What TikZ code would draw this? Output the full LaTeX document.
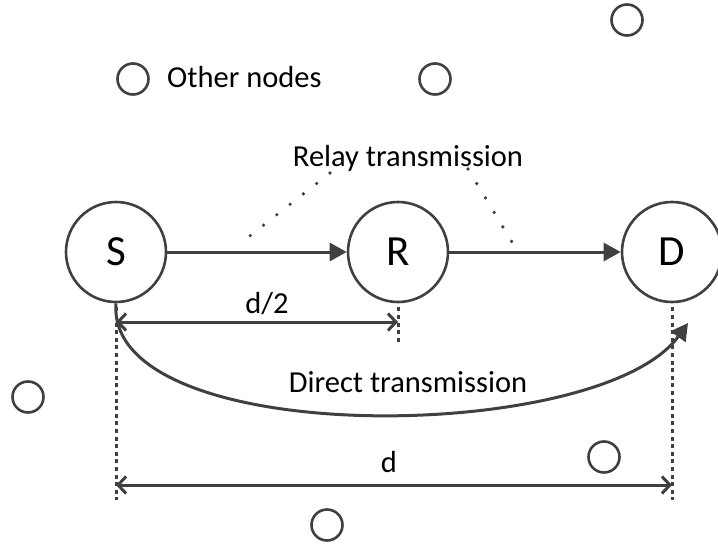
\documentclass[tikz,border=0pt]{standalone}
\usepackage{fontspec}
\setmainfont{Carlito}
\usetikzlibrary{arrows.meta}

\definecolor{ink}{HTML}{404040}

\begin{document}
\begin{tikzpicture}[x=1pt,y=-1pt,
  term/.style={circle,draw=ink,line width=2.6pt,minimum size=100pt,inner sep=0pt,font=\fontsize{43}{50}\selectfont},
  other/.style={circle,draw=ink,line width=2.6pt,minimum size=31pt,inner sep=0pt},
  link/.style={draw=ink,line width=3pt,-{Triangle[length=17pt,width=18pt]}},
  dim/.style={draw=ink,line width=3pt,{Straight Barb[length=8pt,width=17pt]}-{Straight Barb[length=8pt,width=17pt]}},
  guide/.style={draw=ink,line width=3pt,dash pattern=on 4pt off 3.6pt},
  callout/.style={draw=ink,line width=3.6pt,line cap=round,dash pattern=on 0pt off 16.9pt},
  lbl/.style={font=\fontsize{30.5}{36}\selectfont,anchor=base,inner sep=0pt}]
\useasboundingbox (0,0) rectangle (718,546);

% source, relay, destination
\node[term] (S) at (116,252) {S};
\node[term] (R) at (398,252) {R};
\node[term] (D) at (672,252) {D};

% other nodes around
\node[other] (o1) at (133,79) {};
\node[other] (o2) at (435,79) {};
\node[other] (o3) at (627,20) {};
\node[other] (o4) at (28,397) {};
\node[other] (o5) at (604,457) {};
\node[other] (o6) at (327,525) {};
\node[lbl,anchor=base west] (legend) at (167,87) {Other nodes};

% relay path
\draw[link] (S) -- (R);
\draw[link] (R) -- (D);
\node[lbl] (relay) at (408,166) {Relay transmission};
\coordinate (c1) at (330,173);
\coordinate (c2) at (237,246);
\coordinate (c3) at (468,169);
\coordinate (c4) at (512,242);
\draw[callout] (c1) -- (c2);
\draw[callout] (c3) -- (c4);

% direct path
\coordinate (dtip) at (688,323);
\draw[link] (S.south) .. controls (105,450) and (600,445) .. (dtip);
\node[lbl] (direct) at (408,392) {Direct transmission};

% distances
\coordinate (sb) at (116,500);
\coordinate (rb) at (398,342);
\coordinate (db) at (672,500);
\draw[guide] ([yshift=-4pt]S.south) -- (sb);
\draw[guide] ([yshift=-4pt]R.south) -- (rb);
\draw[guide] ([yshift=-4pt]D.south) -- (db);
\coordinate (h1) at (116,322);
\coordinate (h2) at (398,322);
\coordinate (f1) at (116,485);
\coordinate (f2) at (672,485);
\draw[dim] (h1) -- (h2);
\draw[dim] (f1) -- (f2);
\node[lbl] (half) at (267,313) {d/2};
\node[lbl] (full) at (389,472) {d};
\end{tikzpicture}
\end{document}
